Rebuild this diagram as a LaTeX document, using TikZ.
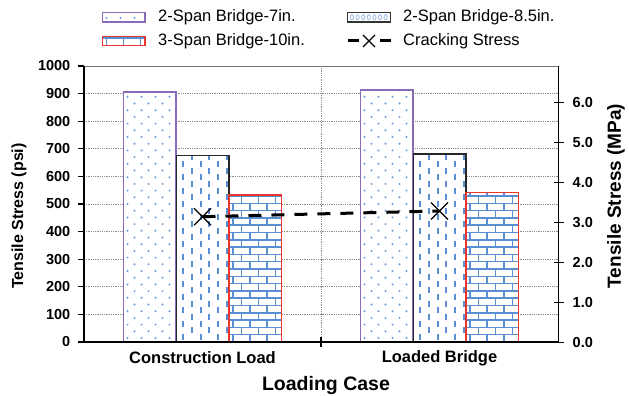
\documentclass[tikz,border=0pt]{standalone}
\usepackage{fontspec}
\setmainfont{Liberation Sans}
\usetikzlibrary{calc}
\definecolor{patblue}{HTML}{5B8FD3}
\definecolor{barpurple}{HTML}{8A6BB8}
\definecolor{barred}{HTML}{E8362E}
\newcommand\patdots[4]{%
 \begin{scope}\clip (#1,#2) rectangle (#3,#4);
 \foreach \j in {0,...,38}{\foreach \i in {0,...,4}{\fill[patblue!90] ({#1+4+\i*14+mod(\j,2)*7},{#4-4-\j*6.7}) circle (1.1pt);}}
 \end{scope}}
\newcommand\patdash[4]{%
 \begin{scope}\clip (#1,#2) rectangle (#3,#4);
 \foreach \i in {0,...,5}{\foreach \j in {0,...,20}{\draw[patblue,line width=1.8pt] ({#1+7+\i*8.7},{#4-2-\j*13.3-mod(\i,2)*6.65}) -- ++(0,-6);}}
 \end{scope}}
\newcommand\patbrick[4]{%
 \begin{scope}\clip (#1,#2) rectangle (#3,#4);
 \foreach \k in {0,...,35}{\draw[patblue,line width=1.5pt] (#1,{#4-\k*7.3}) -- (#3,{#4-\k*7.3});
   \foreach \m in {-1,...,3}{\draw[patblue,line width=1.5pt] ({#1+4+\m*17+mod(\k,2)*8.5},{#4-\k*7.3}) -- ++(0,-7.3);}}
 \end{scope}}
\tikzset{
 ticklbl/.style={font=\bfseries\fontsize{14.5}{16}\selectfont, inner sep=0pt},
 catlbl/.style={font=\bfseries\fontsize{16.5}{18}\selectfont, inner sep=0pt},
 legtxt/.style={font=\fontsize{16.5}{18}\selectfont, inner sep=0pt, anchor=west},
 grid line/.style={densely dotted, black!45, line width=0.8pt},
 axisline/.style={black, line width=2pt},
 crackline/.style={black, line width=3pt, dash pattern=on 13pt off 10pt},
 xmark/.style={black, line width=1.3pt},
 bar7/.style={barpurple, line width=1.8pt},
 bar85/.style={black!85, line width=1.4pt},
 bar10/.style={barred, line width=1.4pt},
}
\begin{document}
\begin{tikzpicture}[x=1pt,y=-1pt]
\useasboundingbox (0,0) rectangle (629,396);
\fill[white] (0,0) rectangle (629,396);
% grid
\foreach \v in {100,200,...,900}{\draw[grid line] (84,{342-\v*0.276}) -- (558,{342-\v*0.276});}
\draw[black!55, line width=0.8pt] (84,66) -- (558,66);
\draw[grid line] (321,66) -- (321,342);
% bars: construction load
\fill[white] (123.5,92.2) rectangle (176.2,342); \patdots{123.5}{92.2}{176.2}{342}
\draw[bar7] (123.5,342) -- (123.5,92.2) -- (176.2,92.2) -- (176.2,342);
\fill[white] (176.2,155.7) rectangle (228.8,342); \patdash{176.2}{155.7}{228.8}{342}
\draw[bar85] (176.2,342) -- (176.2,155.7) -- (228.8,155.7) -- (228.8,342);
\fill[white] (228.8,194.9) rectangle (281.5,342); \patbrick{228.8}{194.9}{281.5}{342}
\draw[bar10] (228.8,342) -- (228.8,194.9) -- (281.5,194.9) -- (281.5,342);
% bars: loaded bridge
\fill[white] (360.5,90.3) rectangle (413.2,342); \patdots{360.5}{90.3}{413.2}{342}
\draw[bar7] (360.5,342) -- (360.5,90.3) -- (413.2,90.3) -- (413.2,342);
\fill[white] (413.2,153.8) rectangle (465.8,342); \patdash{413.2}{153.8}{465.8}{342}
\draw[bar85] (413.2,342) -- (413.2,153.8) -- (465.8,153.8) -- (465.8,342);
\fill[white] (465.8,192.7) rectangle (518.5,342); \patbrick{465.8}{192.7}{518.5}{342}
\draw[bar10] (465.8,342) -- (465.8,192.7) -- (518.5,192.7) -- (518.5,342);
% axes
\draw[axisline] (84,66) -- (84,343);
\draw[axisline] (83,342) -- (559,342);
\draw[black, line width=1.8pt] (558.5,66) -- (558.5,343);
\foreach \v in {0,100,...,1000}{\draw[black, line width=1.2pt] (78,{342-\v*0.276}) -- (84,{342-\v*0.276});}
\foreach \v in {0,...,6}{\draw[black, line width=1.2pt] (553.5,{342.2-\v*40}) -- (563.5,{342.2-\v*40});}
\draw[black, line width=1.2pt] (321,337) -- (321,346.5);
% tick labels
\foreach \v [count=\c] in {0,100,...,1000}{\node[ticklbl, anchor=east] (yl\c) at (70.5,{342-\v*0.276}) {\v};}
\foreach \v [count=\c] in {0,...,6}{\node[ticklbl, anchor=west] (yr\c) at (572.5,{342.5-\v*40}) {\v.0};}
% axis titles
\node[font=\bfseries\fontsize{16}{18}\selectfont, rotate=90, inner sep=0pt] (ytl) at (19,216) {Tensile Stress (psi)};
\node[font=\bfseries\fontsize{19}{21}\selectfont, rotate=90, inner sep=0pt] (ytr) at (616,196) {Tensile Stress (MPa)};
\node[catlbl] (cat1) at (202.5,358) {Construction Load};
\node[catlbl] (cat2) at (439.5,358) {Loaded Bridge};
\node[font=\bfseries\fontsize{19.5}{21}\selectfont, inner sep=0pt] (xtl) at (326,385) {Loading Case};
% cracking stress
\coordinate (c1) at (202.5,216.7);
\coordinate (c2) at (439.5,211);
\draw[crackline] (c1) -- (c2);
\foreach \p in {c1,c2}{\draw[xmark] ($(\p)+(-8.5,-8.5)$) -- ($(\p)+(8.5,8.5)$) ($(\p)+(-8.5,8.5)$) -- ($(\p)+(8.5,-8.5)$);}
% legend
\fill[white] (102.5,12.5) rectangle (145,22); \patdots{102.5}{12.5}{145}{22}
\draw[barpurple, line width=1.6pt] (102.5,12.5) rectangle (145,22);
\node[legtxt] (l1) at (158,17) {2-Span Bridge-7in.};
\fill[white] (347.5,12.5) rectangle (390.5,22);
\foreach \i in {0,...,6}{\draw[patblue!55, line width=0.9pt] ({352+\i*5.6},17.25) ellipse (1.6pt and 2.6pt);}
\draw[black!80, line width=1.1pt] (347.5,12.5) rectangle (390.5,22);
\node[legtxt] (l2) at (403,17) {2-Span Bridge-8.5in.};
\fill[white] (102.5,36.5) rectangle (145,45.5); \patbrick{102.5}{36.5}{145}{45.5}
\draw[barred, line width=1.3pt] (102.5,36.5) rectangle (145,45.5);
\node[legtxt] (l3) at (158,41) {3-Span Bridge-10in.};
\coordinate (la) at (347.5,41);
\coordinate (lm) at (369,41);
\coordinate (lb) at (390.5,41);
\draw[black, line width=3pt] (la) -- ++(11,0);
\draw[black, line width=3pt] (lb) -- ++(-11,0);
\draw[xmark] ($(lm)+(-6,-6)$) -- ($(lm)+(6,6)$) ($(lm)+(-6,6)$) -- ($(lm)+(6,-6)$);
\node[legtxt] (l4) at (403,41) {Cracking Stress};
\end{tikzpicture}
\end{document}
